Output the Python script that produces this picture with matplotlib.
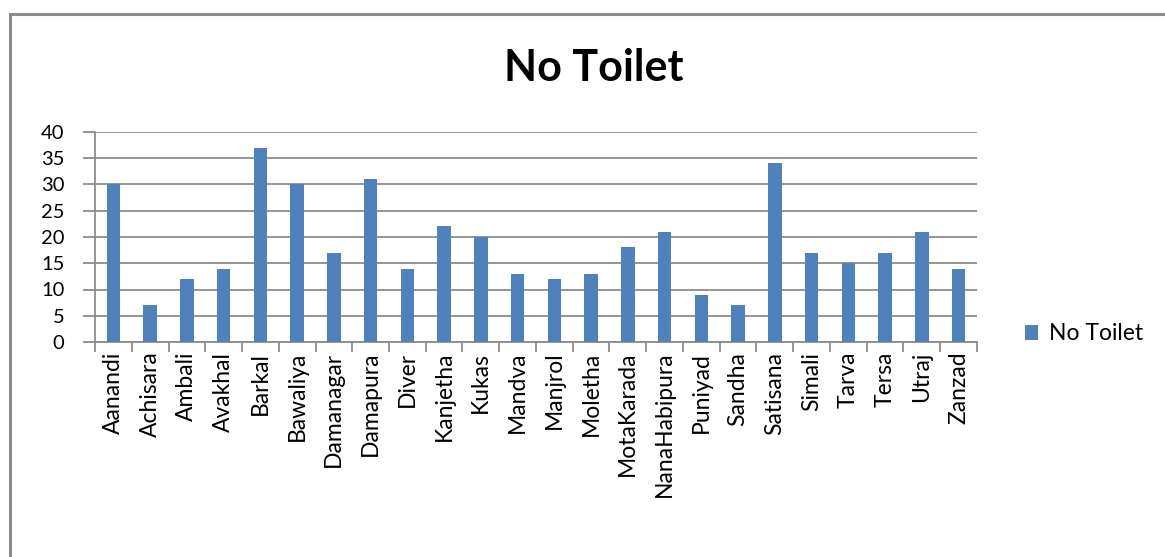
import matplotlib
matplotlib.use("Agg")
import matplotlib.pyplot as plt
from matplotlib.patches import Rectangle
import numpy as np

villages = ["Aanandi", "Achisara", "Ambali", "Avakhal", "Barkal", "Bawaliya",
            "Damanagar", "Damapura", "Diver", "Kanjetha", "Kukas", "Mandva",
            "Manjrol", "Moletha", "MotaKarada", "NanaHabipura", "Puniyad",
            "Sandha", "Satisana", "Simali", "Tarva", "Tersa", "Utraj", "Zanzad"]
no_toilet = [30, 7, 12, 14, 37, 30, 17, 31, 14, 22, 20, 13,
             12, 13, 18, 21, 9, 7, 34, 17, 15, 17, 21, 14]
y_ticks = [0, 5, 10, 15, 20, 25, 30, 35, 40]
series_name = "No Toilet"
chart_title = "No Toilet"

plt.rcParams['font.family'] = ['Lato', 'DejaVu Sans']

W, H = 1165, 557
fig = plt.figure(figsize=(W / 100, H / 100), dpi=100)
fig.patch.set_facecolor("white")

# chart frame
fig.add_artist(Rectangle((10 / W, -0.05), 1.2, 1 - 14 / H + 0.05,
                         transform=fig.transFigure, fill=False,
                         edgecolor="#8c8c8c", linewidth=2.2))

ax = fig.add_axes([95 / W, 215 / H, 882 / W, 210 / H])
x = np.arange(len(villages))
ax.bar(x, no_toilet, width=0.37, color="#4F81BD", label=series_name, zorder=3)

ax.set_xlim(-0.5, len(villages) - 0.5)
ax.set_ylim(0, 40)
ax.set_yticks(y_ticks)
ax.set_yticklabels([str(v) for v in y_ticks], fontsize=14.5)
ax.yaxis.grid(True, color="#8c8c8c", linewidth=1.3, zorder=0)
ax.tick_params(axis="y", length=9, width=1.3, color="#8c8c8c", pad=13)

ax.set_xticks(x)
ax.set_xticklabels(villages, rotation=90, fontsize=16.5, va="top")
ax.tick_params(axis="x", which="major", length=0, pad=7)
ax.set_xticks(np.arange(len(villages) + 1) - 0.5, minor=True)
ax.tick_params(axis="x", which="minor", length=7, width=1.3, color="#8c8c8c")

for side in ["top", "right"]:
    ax.spines[side].set_visible(False)
for side in ["left", "bottom"]:
    ax.spines[side].set_color("#8c8c8c")
    ax.spines[side].set_linewidth(1.3)

fig.text(594 / W, 1 - 68 / H, chart_title, ha="center", va="center",
         fontsize=31, fontweight="bold")

leg = ax.legend(loc="center left", bbox_to_anchor=(1004 / W, 1 - 334 / H),
                bbox_transform=fig.transFigure, frameon=False, fontsize=16.5,
                handlelength=0.6, handleheight=0.6, handletextpad=0.45)

fig.savefig("out.png", dpi=100)
